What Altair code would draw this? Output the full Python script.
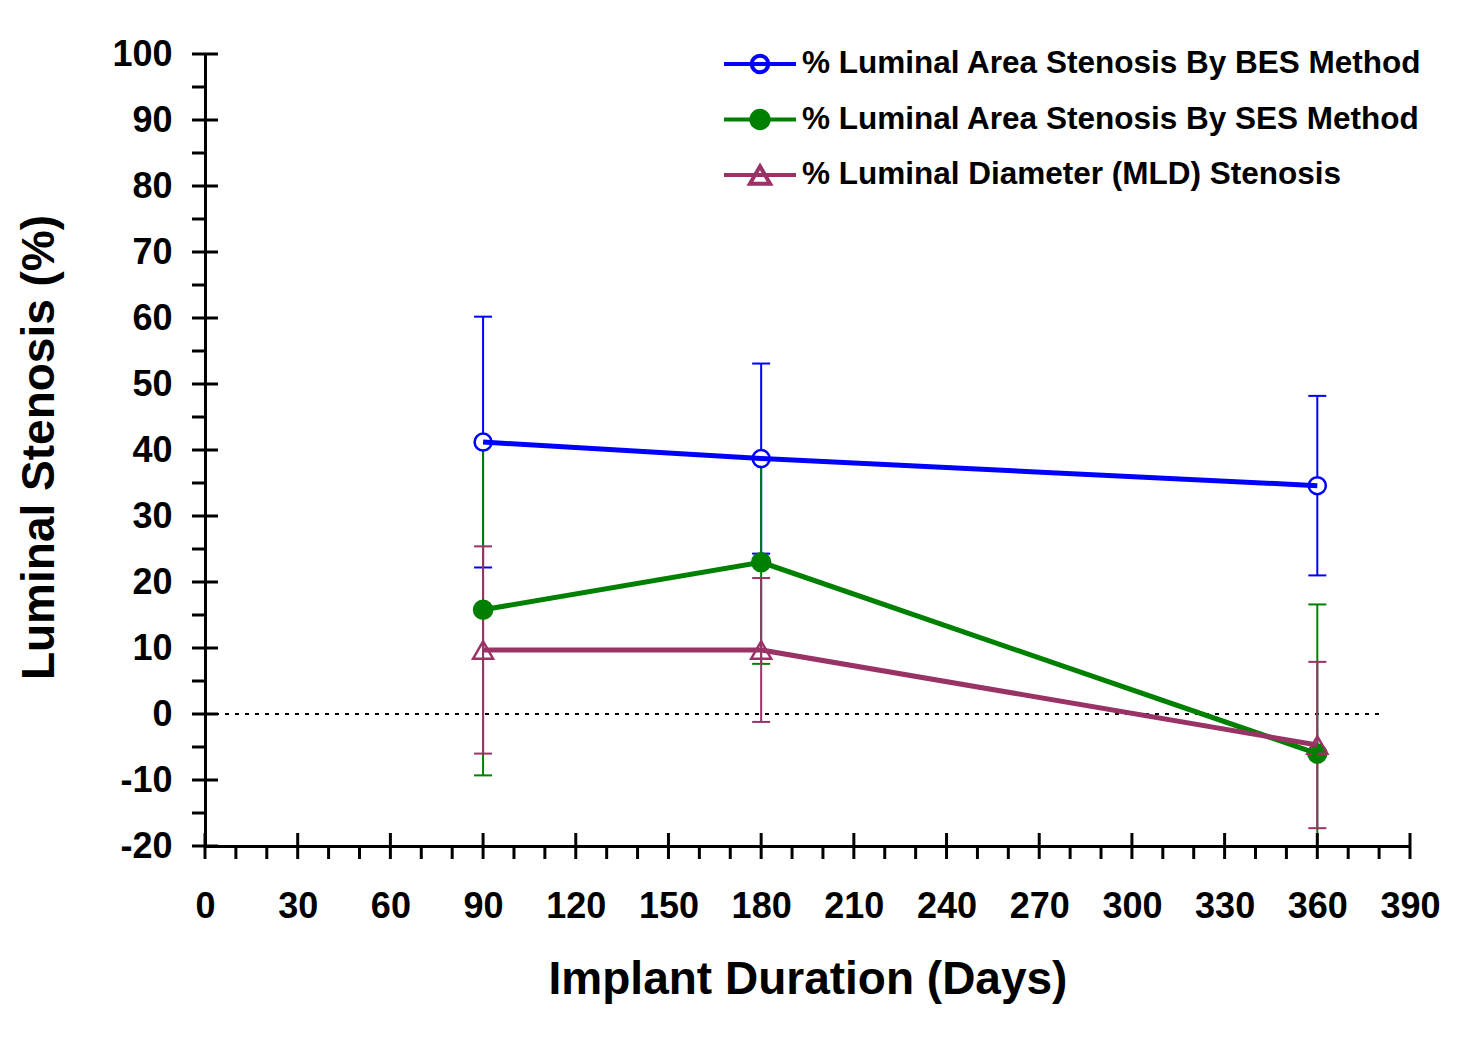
import altair as alt
import pandas as pd

# ---- data ----
days = [90, 180, 360]
bes_mean = [41.2, 38.7, 34.6]
bes_sd = [19.0, 14.4, 13.6]
ses_mean = [15.8, 23.0, -6.0]
ses_sd = [25.1, 15.4, 22.6]
mld_mean = [9.7, 9.7, -4.7]
mld_sd = [15.7, 10.9, 12.6]

series_names = [
    "% Luminal Area Stenosis By BES Method",
    "% Luminal Area Stenosis By SES Method",
    "% Luminal Diameter (MLD) Stenosis",
]
series_colors = ["#0000FF", "#008000", "#993366"]
legend_fills = ["white", "#008000", "white"]

x_major = list(range(0, 391, 30))
x_minor = [v for v in range(0, 391, 10) if v % 30]
y_major = list(range(-20, 101, 10))
y_minor = list(range(-15, 100, 10))
zero_line_x = [0, 380]

FONT = "Liberation Sans"

# ---- tables ----
def series_df(name, means, sds):
    return pd.DataFrame({
        "series": name,
        "day": days,
        "mean": means,
        "lo": [m - s for m, s in zip(means, sds)],
        "hi": [m + s for m, s in zip(means, sds)],
    })

bes = series_df(series_names[0], bes_mean, bes_sd)
ses = series_df(series_names[1], ses_mean, ses_sd)
mld = series_df(series_names[2], mld_mean, mld_sd)

xs = alt.Scale(domain=[0, 390], nice=False, zero=False)
ys = alt.Scale(domain=[-20, 100], nice=False, zero=False)

x_axis = alt.Axis(
    values=x_major, ticks=False, tickSize=0, grid=False,
    domain=True, domainColor="black", domainWidth=3,
    labelFont=FONT, labelFontSize=36, labelFontWeight="bold", labelColor="black",
    labelPadding=43, labelFlush=False, labelOverlap=False,
    labelExpr="'' + datum.value",
    title="Implant Duration (Days)", titleFont=FONT, titleFontSize=46,
    titleFontWeight="bold", titleColor="black", titleY=147,
    titleBaseline="alphabetic",
)
y_axis = alt.Axis(
    values=y_major, ticks=False, tickSize=0, grid=False,
    domain=True, domainColor="black", domainWidth=3,
    labelFont=FONT, labelFontSize=36, labelFontWeight="bold", labelColor="black",
    labelPadding=33, labelFlush=False, labelOverlap=False,
    labelExpr="'' + datum.value",
    title="Luminal Stenosis (%)", titleFont=FONT, titleFontSize=46,
    titleFontWeight="bold", titleColor="black", titleX=-152, titleY=393,
    titleAngle=-90, titleBaseline="alphabetic", titleAlign="center",
)


def X(field):
    return alt.X(field, scale=xs, axis=x_axis, title="Implant Duration (Days)")


def Y(field):
    return alt.Y(field, scale=ys, axis=y_axis, title="Luminal Stenosis (%)")


def XD(v):
    return alt.XDatum(v, scale=xs, axis=x_axis, title="Implant Duration (Days)")


def YD(v):
    return alt.YDatum(v, scale=ys, axis=y_axis, title="Luminal Stenosis (%)")


# ticks drawn across the axis lines
xmaj = alt.Chart(pd.DataFrame({"v": x_major})).mark_tick(
    orient="vertical", size=26, thickness=3, color="black", opacity=1
).encode(x=X("v:Q"), y=YD(-20))
xmin = alt.Chart(pd.DataFrame({"v": x_minor})).mark_tick(
    orient="vertical", size=13, thickness=3, color="black", opacity=1, yOffset=6.5
).encode(x=X("v:Q"), y=YD(-20))
ymaj = alt.Chart(pd.DataFrame({"v": y_major})).mark_tick(
    orient="horizontal", size=26, thickness=3, color="black", opacity=1
).encode(y=Y("v:Q"), x=XD(0))
ymin = alt.Chart(pd.DataFrame({"v": y_minor})).mark_tick(
    orient="horizontal", size=13, thickness=3, color="black", opacity=1, xOffset=-6.5
).encode(y=Y("v:Q"), x=XD(0))

zero_line = alt.Chart(pd.DataFrame({"x": zero_line_x, "y": [0, 0]})).mark_line(
    color="black", strokeWidth=2, strokeDash=[4, 6]
).encode(x=X("x:Q"), y=Y("y:Q"))


def error_layers(df, color):
    base = alt.Chart(df)
    rule = base.mark_rule(color=color, strokeWidth=2, clip=True).encode(
        x=X("day:Q"), y=Y("lo:Q"), y2="hi:Q",
    )
    cap_hi = base.mark_tick(orient="horizontal", size=18, thickness=2, color=color,
                            opacity=1, clip=True).encode(x=X("day:Q"), y=Y("hi:Q"))
    cap_lo = base.mark_tick(orient="horizontal", size=18, thickness=2, color=color,
                            opacity=1, clip=True).encode(x=X("day:Q"), y=Y("lo:Q"))
    return [rule, cap_hi, cap_lo]


def line_layer(df, color):
    return alt.Chart(df).mark_line(color=color, strokeWidth=5).encode(
        x=X("day:Q"), y=Y("mean:Q"))


def point_layer(df, shape, size, fill, stroke):
    return alt.Chart(df).mark_point(
        shape=shape, size=size, filled=True, fill=fill, stroke=stroke,
        strokeWidth=2.5, opacity=1,
    ).encode(x=X("day:Q"), y=Y("mean:Q"))


# legend (uses scale domains; no marks drawn)
legend_paths = [
    "M-1,0H1M-0.23,0A0.23,0.23,0,1,1,0.23,0A0.23,0.23,0,1,1,-0.23,0Z",
    "M-1,0H1M-0.24,0A0.24,0.24,0,1,1,0.24,0A0.24,0.24,0,1,1,-0.24,0Z",
    "M-1,0H1M0,-0.24L0.28,0.24L-0.28,0.24Z",
]
leg = dict(
    orient="none", legendX=517, legendY=-28, title=None, padding=0,
    labelFont=FONT, labelFontSize=31.5, labelFontWeight="bold", labelColor="black",
    labelLimit=2000, labelOffset=4, symbolSize=5184, symbolStrokeWidth=4,
    rowPadding=0.5,
)
legend_layer = alt.Chart(pd.DataFrame({"series": series_names, "day": [0, 0, 0],
                                       "mean": [0, 0, 0]})).transform_filter(
    "false"
).mark_point(filled=True, size=5184, opacity=1, strokeWidth=4).encode(
    x=X("day:Q"), y=Y("mean:Q"),
    shape=alt.Shape("series:N", scale=alt.Scale(domain=series_names, range=legend_paths),
                    legend=alt.Legend(**leg)),
    stroke=alt.Stroke("series:N", scale=alt.Scale(domain=series_names, range=series_colors),
                      legend=alt.Legend(**leg)),
    fill=alt.Fill("series:N", scale=alt.Scale(domain=series_names, range=legend_fills),
                  legend=alt.Legend(**leg)),
)

layers = [zero_line]
layers += error_layers(bes, series_colors[0])
layers += error_layers(ses, series_colors[1])
layers += error_layers(mld, series_colors[2])
layers += [
    point_layer(ses, "circle", 324, series_colors[1], series_colors[1]),
    point_layer(mld, "triangle-up", 400, "transparent", series_colors[2]),
    point_layer(bes, "circle", 289, "white", series_colors[0]),
    line_layer(ses, series_colors[1]),
    line_layer(mld, series_colors[2]),
    line_layer(bes, series_colors[0]),
    xmaj, xmin, ymaj, ymin,
    legend_layer,
]

chart = alt.layer(*layers).properties(
    width=1205, height=792,
    autosize=alt.AutoSizeParams(type="none"),
    padding={"left": 197, "top": 46, "right": 30, "bottom": 170},
    background="white",
).configure_view(stroke=None)

chart.save("out.html", embed_options={"renderer": "svg", "actions": False})
